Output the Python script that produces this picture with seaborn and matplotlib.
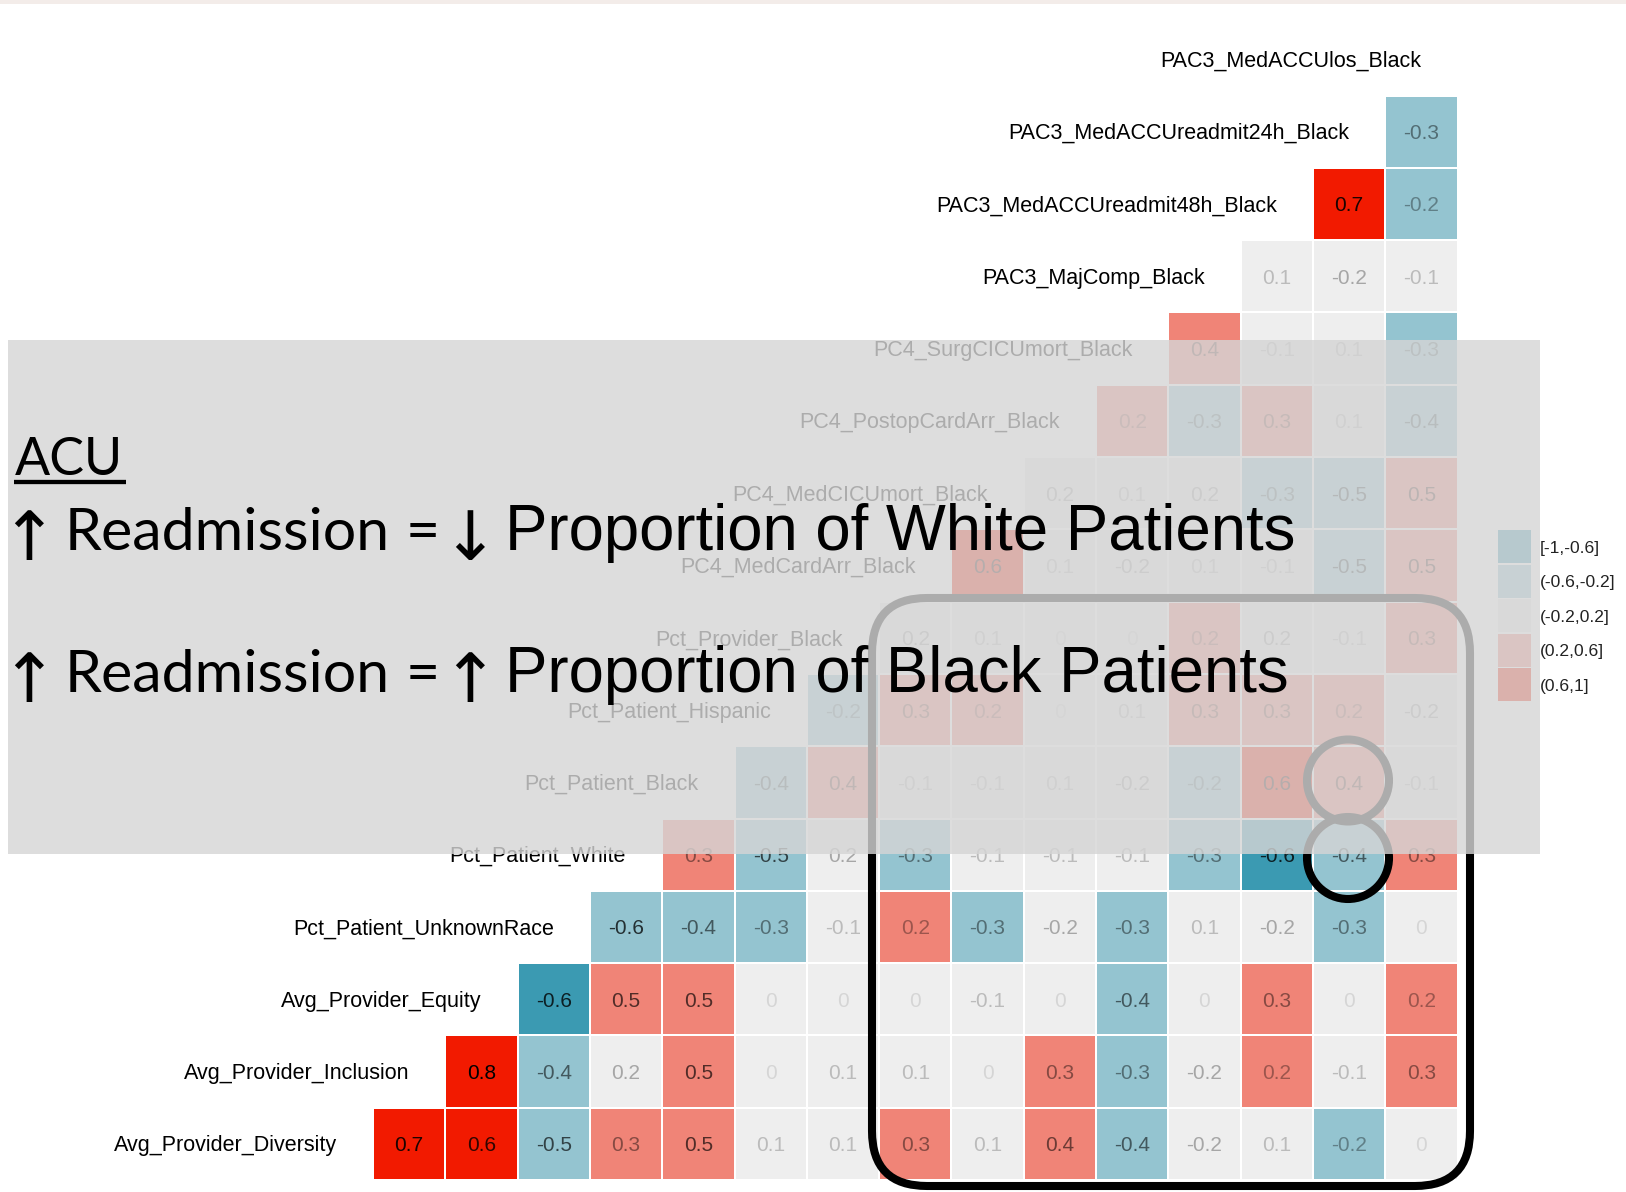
import numpy as np
import pandas as pd
import matplotlib
matplotlib.use("Agg")
import matplotlib.pyplot as plt
from matplotlib.colors import ListedColormap, BoundaryNorm
from matplotlib.patches import Rectangle, FancyBboxPatch, Circle
import seaborn as sns

# ---------------- data ----------------
# variables listed from the bottom row of the triangle to the top row
variables = [
    "Avg_Provider_Diversity", "Avg_Provider_Inclusion", "Avg_Provider_Equity",
    "Pct_Patient_UnknownRace", "Pct_Patient_White", "Pct_Patient_Black",
    "Pct_Patient_Hispanic", "Pct_Provider_Black", "PC4_MedCardArr_Black",
    "PC4_MedCICUmort_Black", "PC4_PostopCardArr_Black", "PC4_SurgCICUmort_Black",
    "PAC3_MajComp_Black", "PAC3_MedACCUreadmit48h_Black",
    "PAC3_MedACCUreadmit24h_Black", "PAC3_MedACCUlos_Black",
]

# correlations of each variable with every variable listed after it
row_diversity = [0.7, 0.62, -0.5, 0.3, 0.5, 0.1, 0.1, 0.3, 0.1, 0.4, -0.4, -0.18, 0.1, -0.22, 0.0]
row_inclusion = [0.8, -0.4, 0.18, 0.5, 0.0, 0.1, 0.1, 0.0, 0.3, -0.3, -0.18, 0.22, -0.1, 0.3]
row_equity = [-0.62, 0.5, 0.5, 0.0, 0.0, 0.0, -0.1, 0.0, -0.4, 0.0, 0.3, 0.0, 0.22]
row_unknown = [-0.58, -0.4, -0.3, -0.1, 0.22, -0.3, -0.18, -0.3, 0.1, -0.18, -0.3, 0.0]
row_white = [0.3, -0.5, 0.18, -0.3, -0.1, -0.1, -0.1, -0.3, -0.62, -0.4, 0.3]
row_black = [-0.4, 0.4, -0.1, -0.1, 0.1, -0.18, -0.22, 0.62, 0.4, -0.1]
row_hispanic = [-0.22, 0.3, 0.22, 0.0, 0.1, 0.3, 0.3, 0.22, -0.18]
row_prov_black = [0.18, 0.1, 0.0, 0.0, 0.22, 0.18, -0.1, 0.3]
row_medcardarr = [0.62, 0.1, -0.18, 0.1, -0.1, -0.5, 0.5]
row_medcicumort = [0.18, 0.1, 0.18, -0.3, -0.5, 0.5]
row_postop = [0.22, -0.3, 0.3, 0.1, -0.4]
row_surgcicu = [0.4, -0.1, 0.1, -0.3]
row_majcomp = [0.1, -0.18, -0.1]
row_readmit48 = [0.7, -0.22]
row_readmit24 = [-0.3]
row_los = []

rows_values = [row_diversity, row_inclusion, row_equity, row_unknown, row_white,
               row_black, row_hispanic, row_prov_black, row_medcardarr,
               row_medcicumort, row_postop, row_surgcicu, row_majcomp,
               row_readmit48, row_readmit24, row_los]

bin_edges = [-1, -0.6, -0.2, 0.2, 0.6, 1]
bin_labels = ["[-1,-0.6]", "(-0.6,-0.2]", "(-0.2,0.2]", "(0.2,0.6]", "(0.6,1]"]
palette = ["#3B9AB2", "#94C4D0", "#EEEEEE", "#F08477", "#F21A00"]

title_acu = "ACU"
line1_left = "Readmission"
line1_arrow = "\u2193"
line1_right = "Proportion of White Patients"
line2_arrow = "\u2191"
line2_right = "Proportion of Black Patients"

# ---------------- build matrix ----------------
n = len(variables)
M = np.full((n, n), np.nan)
for i, vals in enumerate(rows_values):
    for k, v in enumerate(vals):
        M[n - 1 - i, i + 1 + k] = v
df = pd.DataFrame(M, index=variables[::-1], columns=variables)

sns.set_style("white")
plt.rcParams["font.family"] = ["Liberation Sans", "DejaVu Sans"]

W, H = 1626, 1192
fig = plt.figure(figsize=(W / 100, H / 100), dpi=100)
fig.patch.set_facecolor("white")

ax = fig.add_axes([0, 0, 1, 1])
cmap = ListedColormap(palette)
norm = BoundaryNorm(bin_edges, cmap.N)
sns.heatmap(df, mask=df.isna(), cmap=cmap, norm=norm, cbar=False,
            linewidths=1.2, linecolor="white",
            xticklabels=False, yticklabels=False, ax=ax)

vmax = np.nanmax(np.abs(M))
cap_off = 0.104
for r in range(n):
    for c in range(n):
        v = M[r, c]
        if np.isnan(v):
            continue
        s = f"{v:.1f}"
        if s in ("0.0", "-0.0"):
            s = "0"
        a = 0.1 + 0.9 * abs(v) / vmax
        ax.text(c + 0.5, r + 0.5 + cap_off, s, ha="center", va="baseline",
                fontsize=15, color="black", alpha=a)

for i, name in enumerate(variables):
    ax.text(i + 0.5, (n - 1 - i) + 0.5 + cap_off, name, ha="right",
            va="baseline", fontsize=15.5, color="black")

ax.set_xlim(-4.159, 18.33)
ax.set_ylim(16.166, -0.321)
ax.set_axis_off()

# ---------------- annotation layer (pixel coordinates) ----------------
ax2 = fig.add_axes([0, 0, 1, 1], zorder=5)
ax2.set_xlim(0, W)
ax2.set_ylim(H, 0)
ax2.set_axis_off()
ax2.patch.set_alpha(0)

# legend keys + labels
key_tops = [530, 564.5, 599, 633.5, 668]
for top, col, lab in zip(key_tops, palette, bin_labels):
    ax2.add_patch(Rectangle((1498, top), 33, 33, facecolor=col,
                            edgecolor="none", zorder=1))
    ax2.text(1540, top + 16.5 + 6.3, lab, ha="left", va="baseline",
             fontsize=12.6, color="#222222", zorder=6)

# rounded box and circles
ax2.add_patch(FancyBboxPatch((872, 598), 598, 588,
                             boxstyle="round,pad=0,rounding_size=55",
                             facecolor="none", edgecolor="black",
                             linewidth=5.8, zorder=2))
for cy in (780.5, 858):
    ax2.add_patch(Circle((1348, cy), 41, facecolor="none", edgecolor="black",
                         linewidth=5.8, zorder=2))

# translucent gray overlay
ax2.add_patch(Rectangle((8, 340), 1532, 514, facecolor=(213 / 255,) * 3,
                        alpha=0.81, edgecolor="none", zorder=3))

# top strip
ax2.add_patch(Rectangle((0, 0), W, 3.5, facecolor="#F3ECE9",
                        edgecolor="none", zorder=7))

renderer = fig.canvas.get_renderer()


def fit(t, target):
    bb = t.get_window_extent(renderer)
    t.set_fontsize(t.get_fontsize() * target / bb.width)


cal = ["Lato", "DejaVu Sans"]
arrow_fam = ["DejaVu Sans"]
t_r1 = ax2.text(65, 550, line1_left, family=cal, fontsize=45, ha="left",
                va="baseline", color="black", zorder=6)
fit(t_r1, 326)
fs_cal = t_r1.get_fontsize()

t_acu = ax2.text(15, 475, title_acu, family=cal, fontsize=fs_cal, ha="left",
                 va="baseline", color="black", zorder=6)
fit(t_acu, 108)
ax2.plot([14, 126], [482, 482], color="black", lw=3.1,
         solid_capstyle="butt", zorder=6)

ax2.text(65, 692, line1_left, family=cal, fontsize=fs_cal, ha="left",
         va="baseline", color="black", zorder=6)
for yb, arr in ((550, line1_arrow), (692, line2_arrow)):
    ax2.text(29, yb + 10, "\u2191", family=arrow_fam, fontsize=fs_cal * 1.15,
             ha="center", va="baseline", color="black", zorder=6)
    ax2.text(406, yb, "=", family=cal, fontsize=fs_cal, ha="left",
             va="baseline", color="black", zorder=6)
    ax2.text(470, yb + 10, arr, family=arrow_fam, fontsize=fs_cal * 1.15,
             ha="center", va="baseline", color="black", zorder=6)

t_p1 = ax2.text(505, 550, line1_right, fontsize=45, ha="left", va="baseline",
                color="black", zorder=6)
fit(t_p1, 791)
ax2.text(505, 692, line2_right, fontsize=t_p1.get_fontsize(), ha="left",
         va="baseline", color="black", zorder=6)

fig.savefig("out.png", dpi=100, facecolor="white")
